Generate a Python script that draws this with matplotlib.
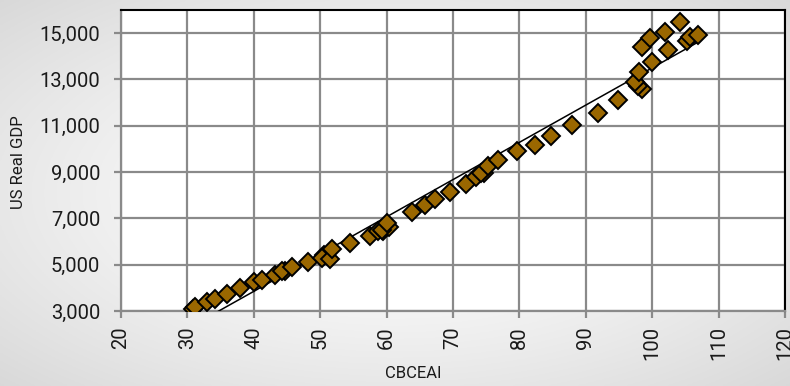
import numpy as np
import matplotlib
matplotlib.use("Agg")
import matplotlib.pyplot as plt
from matplotlib.ticker import FuncFormatter

# CBCEAI (x) vs US Real GDP (y)
cbceai = [30.8, 31.2, 32.9, 34.2, 35.9, 37.9, 40.0, 41.2, 43.2, 44.7,
          44.2, 45.8, 48.2, 50.6, 50.2, 51.5, 51.8, 54.5, 57.5, 58.7,
          59.5, 60.3, 59.3, 60.0, 63.8, 65.8, 67.3, 69.5, 71.9, 73.5,
          74.6, 74.2, 75.3, 76.8, 79.7, 82.3, 84.7, 87.9, 91.9, 94.9,
          98.4, 97.8, 97.4, 98.0, 100.0, 102.4, 105.2, 105.7, 106.9, 98.4,
          99.7, 101.9, 104.2]
gdp = [3100, 3190, 3380, 3530, 3730, 3980, 4240, 4355, 4570, 4710,
       4720, 4880, 5130, 5420, 5310, 5240, 5675, 5940, 6260, 6460,
       6450, 6620, 6490, 6790, 7270, 7580, 7850, 8140, 8470, 8790,
       8960, 8940, 9260, 9520, 9900, 10180, 10550, 11040, 11550, 12100,
       12600, 12700, 12900, 13320, 13770, 14270, 14680, 14840, 14910, 14420,
       14800, 15060, 15490]

x_ticks = [20, 30, 40, 50, 60, 70, 80, 90, 100, 110, 120]
y_ticks = [3000, 5000, 7000, 9000, 11000, 13000, 15000]

plt.rcParams['font.family'] = ['Roboto', 'DejaVu Sans']

fig = plt.figure(figsize=(7.9, 3.86), dpi=100)

# radial gradient background
bg = fig.add_axes([0, 0, 1, 1], zorder=-10)
gx, gy = np.meshgrid(np.linspace(-1, 1, 400), np.linspace(-1, 1, 200))
r = np.sqrt(gx**2 + gy**2) / np.sqrt(2)
val = 1.0 - 0.15 * r**1.4
img = np.dstack([val, val, val])
bg.imshow(img, aspect='auto', extent=[0, 1, 0, 1])
bg.axis('off')

ax = fig.add_axes([121/790, 1 - 311/386, (785-121)/790, (311-10)/386])
ax.set_facecolor('white')

ax.set_xlim(20, 120)
ax.set_ylim(3000, 16000)
ax.set_xticks(x_ticks)
ax.set_yticks(y_ticks)
ax.yaxis.set_major_formatter(FuncFormatter(lambda v, p: f"{int(v):,}"))

gridc = '#8a8a8a'
ax.grid(True, color=gridc, linewidth=1.6, zorder=0)
ax.set_axisbelow(True)
for s in ['left', 'bottom']:
    ax.spines[s].set_color(gridc)
    ax.spines[s].set_linewidth(1.6)
for s in ['top', 'right']:
    ax.spines[s].set_color('black')
    ax.spines[s].set_linewidth(1.5)

ax.tick_params(axis='both', colors=gridc, width=1.6, length=5,
               labelcolor='#1a1a1a', labelsize=14.5)
ax.tick_params(axis='y', pad=10)
ax.tick_params(axis='x', pad=6, labelrotation=90)

# linear trend line (Excel-style trendline)
coef = np.polyfit(cbceai, gdp, 1)
xx = np.linspace(min(cbceai), max(cbceai), 300)
ax.plot(xx, np.polyval(coef, xx), color='black', linewidth=1.1, zorder=3)

ax.plot(cbceai, gdp, linestyle='none', marker='D', markersize=9.5,
        markerfacecolor='#9a6700', markeredgecolor='black',
        markeredgewidth=1.4, zorder=4)

fig.text(19/790, 1 - 162/386, 'US Real GDP', rotation=90, fontsize=12,
         color='#1a1a1a', ha='center', va='center')
fig.text(413/790, 1 - 374/386, 'CBCEAI', fontsize=12, color='#1a1a1a',
         ha='center', va='center')

fig.savefig('out.png', dpi=100)
